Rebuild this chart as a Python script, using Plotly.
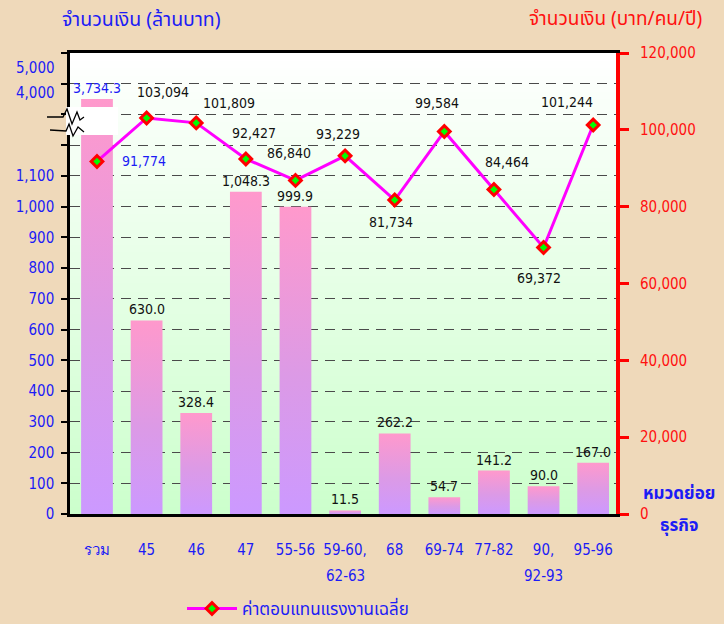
import plotly.graph_objects as go

# ---------------- data ----------------
categories = ["รวม", "45", "46", "47", "55-56", "59-60,\n62-63", "68",
              "69-74", "77-82", "90,\n92-93", "95-96"]
amount_million = [3734.3, 630.0, 328.4, 1048.3, 999.9, 11.5, 262.2, 54.7, 141.2, 90.0, 167.0]
avg_wage = [91774, 103094, 101809, 92427, 86840, 93229, 81734, 99584, 84464, 69372, 101244]
left_tick_vals = [0, 100, 200, 300, 400, 500, 600, 700, 800, 900, 1000, 1100]
break_tick_vals = [4000, 5000]
right_tick_vals = [0, 20000, 40000, 60000, 80000, 100000, 120000]

# ---------------- style ----------------
BG = "#EFD9BA"
BLUE = "#1c1cf5"
RED = "#ff1010"
NUM_FONT = "DejaVu Sans Condensed, DejaVu Sans, Tahoma, sans-serif"
THAI_FONT = "Tahoma, Noto Sans Thai, Loma, Garuda, DejaVu Sans, sans-serif"
W, H = 724, 624
PL, PR, PT, PB = 70, 616, 53, 514
LEFT_MAX = 1500
RIGHT_MAX = 120000
BAR_HALF = 0.32
# label offsets (px) for the line data labels: (dx, dy up)
wage_label_offsets = [(47, 0), (16, 26), (33, 20), (8, 26), (-6, 27), (-7, 22),
                      (-4, -22), (-7, 28), (13, 28), (-5, -30), (-26, 23)]


def px_x(px):
    return (px - PL) / (PR - PL)


def px_y(py):
    return (PB - py) / (PB - PT)


def disp(v):
    """broken left axis: values above the break are compressed"""
    if v <= LEFT_MAX:
        return v
    return 1350 + (v - 3734.3) * 0.08


n = len(categories)
xs = list(range(n))
first_lines = [c.split("\n")[0] for c in categories]
second_lines = [c.split("\n")[1] if "\n" in c else "" for c in categories]

fig = go.Figure()

# bars with vertical gradient (pink top -> lavender bottom)
for i, v in enumerate(amount_million):
    top = disp(v)
    fig.add_trace(go.Scatter(
        x=[i - BAR_HALF, i + BAR_HALF, i + BAR_HALF, i - BAR_HALF, i - BAR_HALF],
        y=[0, 0, top, top, 0],
        mode="lines", fill="toself",
        line=dict(width=0, color="rgba(0,0,0,0)"),
        fillgradient=dict(type="vertical",
                          colorscale=[[0, "#cc99ff"], [0.45, "#dc9ae6"], [1, "#ff99cc"]]),
        showlegend=False, hoverinfo="skip", yaxis="y"))

# line
fig.add_trace(go.Scatter(
    x=xs, y=avg_wage, yaxis="y2", mode="lines+markers",
    name="ค่าตอบแทนแรงงานเฉลี่ย",
    line=dict(color="#ff00ff", width=3),
    marker=dict(symbol="diamond", size=9, color="#00ff00",
                line=dict(color="#ff0000", width=3))))

annotations = []
# bar labels
for i, v in enumerate(amount_million):
    annotations.append(dict(
        x=i, y=disp(v), xref="x", yref="y", text=f"{v:,.1f}",
        showarrow=False, yanchor="bottom", yshift=1, xanchor="center",
        font=dict(family=NUM_FONT, size=14, color=BLUE if i == 0 else "#111111")))
# line labels
for i, v in enumerate(avg_wage):
    dx, dy = wage_label_offsets[i]
    annotations.append(dict(
        x=i, y=v, xref="x", yref="y2", text=f"{v:,}",
        showarrow=False, xshift=dx, yshift=dy, xanchor="center",
        font=dict(family=NUM_FONT, size=14, color=BLUE if i == 0 else "#111111")))
# broken-axis labels
for v in break_tick_vals:
    annotations.append(dict(
        x=px_x(57), y=disp(v), xref="paper", yref="y", text=f"{v:,}",
        showarrow=False, xanchor="right",
        font=dict(family=NUM_FONT, size=15, color=BLUE)))
# second lines of category labels
for i, s in enumerate(second_lines):
    if s:
        annotations.append(dict(
            x=i, y=px_y(576), xref="x", yref="paper", text=s,
            showarrow=False, xanchor="center", yanchor="middle",
            font=dict(family=NUM_FONT, size=15, color=BLUE)))
# titles
annotations += [
    dict(x=px_x(141), y=px_y(20), xref="paper", yref="paper", text="จำนวนเงิน (ล้านบาท)",
         showarrow=False, xanchor="center", yanchor="middle",
         font=dict(family=THAI_FONT, size=19.5, color=BLUE)),
    dict(x=px_x(615), y=px_y(20), xref="paper", yref="paper", text="จำนวนเงิน (บาท/คน/ปี)",
         showarrow=False, xanchor="center", yanchor="middle",
         font=dict(family=THAI_FONT, size=19, color=RED)),
    dict(x=px_x(679), y=px_y(494), xref="paper", yref="paper", text="<b>หมวดย่อย</b>",
         showarrow=False, xanchor="center", yanchor="middle",
         font=dict(family=THAI_FONT, size=17, color=BLUE)),
    dict(x=px_x(679), y=px_y(526), xref="paper", yref="paper", text="<b>ธุรกิจ</b>",
         showarrow=False, xanchor="center", yanchor="middle",
         font=dict(family=THAI_FONT, size=17, color=BLUE)),
]

# background gradient stripes (white top -> light green bottom)
shapes = []
NS = 60
for k in range(NS):
    t = (k + 0.5) / NS  # 0 at bottom
    f = 1 - t
    r = int(round(255 - (255 - 0xCC) * f))
    b = int(round(255 - (255 - 0xCC) * f))
    shapes.append(dict(type="rect", xref="paper", yref="paper",
                       x0=0, x1=1, y0=k / NS, y1=(k + 1) / NS + 0.002,
                       fillcolor=f"rgb({r},255,{b})", line=dict(width=0), layer="below"))

# axis break: white gap + squiggles
shapes.append(dict(type="rect", xref="paper", yref="paper",
                   x0=px_x(66), x1=px_x(118), y0=px_y(135), y1=px_y(107),
                   fillcolor="white", line=dict(width=0), layer="above"))


def sq_path(pts):
    return "M " + " L ".join(f"{px_x(a):.4f},{px_y(b):.4f}" for a, b in pts)


upper = [(47, 117), (63, 117), (67, 109), (72, 124), (77, 112), (80, 120), (84, 117)]
lower = [(50, 130), (66, 131), (69, 124), (73, 136), (78, 127), (84, 132)]
for pts in (upper, lower):
    shapes.append(dict(type="path", xref="paper", yref="paper", path=sq_path(pts),
                       line=dict(color="black", width=1.3), layer="above"))

fig.update_layout(
    width=W, height=H,
    paper_bgcolor=BG, plot_bgcolor="white",
    margin=dict(l=PL, r=W - PR, t=PT, b=H - PB, autoexpand=False),
    showlegend=True,
    legend=dict(orientation="h", x=px_x(182), y=px_y(609), xanchor="left", yanchor="middle",
                bgcolor="rgba(0,0,0,0)", itemwidth=50,
                font=dict(family=THAI_FONT, size=17, color=BLUE)),
    xaxis=dict(range=[-0.544, 10.46], tickvals=xs, ticktext=first_lines,
               showline=True, linecolor="black", linewidth=3, mirror=True,
               ticks="", showgrid=False, zeroline=False,
               ticklabelstandoff=20, automargin=False,
               tickfont=dict(family=NUM_FONT, size=15, color=BLUE)),
    yaxis=dict(range=[0, LEFT_MAX], tickvals=[i * 100 for i in range(16)],
               ticktext=[f"{v:,}" for v in left_tick_vals] + [""] * 4,
               showline=True, linecolor="black", linewidth=2.5,
               ticks="outside", ticklen=6, tickwidth=1.5, tickcolor="black",
               ticklabelstandoff=4, automargin=False,
               showgrid=True, gridcolor="#4a4a4a", gridwidth=1.3, griddash="10px,7px",
               zeroline=False,
               tickfont=dict(family=NUM_FONT, size=15, color=BLUE)),
    yaxis2=dict(range=[0, RIGHT_MAX], overlaying="y", side="right",
                tickvals=right_tick_vals, ticktext=[f"{v:,}" for v in right_tick_vals],
                showline=True, linecolor="#ff0000", linewidth=4,
                ticks="outside", ticklen=9, tickwidth=2.5, tickcolor="#ff0000",
                ticklabelstandoff=8, automargin=False,
                showgrid=False, zeroline=False,
                tickfont=dict(family=NUM_FONT, size=15, color=RED)),
    yaxis3=dict(range=[0, RIGHT_MAX], overlaying="y", side="right",
                tickvals=right_tick_vals, showticklabels=False,
                ticks="inside", ticklen=5, tickwidth=2.5, tickcolor="#ff0000",
                showline=False, showgrid=False, zeroline=False),
    annotations=annotations,
    shapes=shapes,
)

fig.write_html("out.html",
               config={"displayModeBar": False},
               post_script="document.body.style.margin='0';"
                           "document.body.style.background='#EFD9BA';")
